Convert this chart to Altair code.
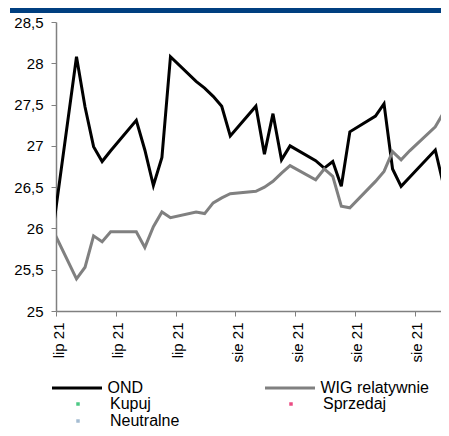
import altair as alt
import pandas as pd
from datetime import date

# ---- data ----
dates = [
    "2021-07-16", "2021-07-19", "2021-07-20", "2021-07-21", "2021-07-22", "2021-07-23",
    "2021-07-26", "2021-07-27", "2021-07-28", "2021-07-29", "2021-07-30",
    "2021-08-02", "2021-08-03", "2021-08-04", "2021-08-05", "2021-08-06",
    "2021-08-09", "2021-08-10", "2021-08-11", "2021-08-12", "2021-08-13",
    "2021-08-16", "2021-08-17", "2021-08-18", "2021-08-19", "2021-08-20",
    "2021-08-23", "2021-08-24", "2021-08-25", "2021-08-26", "2021-08-27",
    "2021-08-30", "2021-08-31", "2021-09-01",
]
ond = [
    25.79, 28.08, 27.47, 26.99, 26.81, 26.94,
    27.31, 26.95, 26.52, 26.86, 28.08,
    27.78, 27.70, 27.60, 27.48, 27.12,
    27.48, 26.90, 27.39, 26.83, 27.00,
    26.82, 26.73, 26.81, 26.51, 27.17,
    27.36, 27.51, 26.72, 26.51, 26.62,
    26.95, 26.51, 26.51,
]
wig = [
    26.03, 25.39, 25.53, 25.91, 25.84, 25.96,
    25.96, 25.77, 26.02, 26.20, 26.13,
    26.20, 26.18, 26.31, 26.37, 26.42,
    26.45, 26.50, 26.57, 26.67, 26.76,
    26.59, 26.72, 26.63, 26.27, 26.25,
    26.57, 26.69, 26.93, 26.83, 26.94,
    27.23, 27.41, 27.41,
]
series_names = ["OND", "WIG relatywnie"]
series_colors = ["#000000", "#808080"]
signal_names = ["Kupuj", "Sprzedaj", "Neutralne"]
signal_colors = ["#00b050", "#e2004f", "#7f9fbf"]
y_ticks = [25, 25.5, 26, 26.5, 27, 27.5, 28, 28.5]
x_tick_days = [0, 7, 14, 21, 28, 35, 42]
x_tick_labels = ["lip 21", "lip 21", "lip 21", "sie 21", "sie 21", "sie 21", "sie 21"]

axis_start = date(2021, 7, 17)
axis_end_day = 45.07
day_offset = 0.4


def day_pos(d):
    return (date.fromisoformat(d) - axis_start).days + day_offset


rows = []
for d, o, w in zip(dates, ond, wig):
    rows.append({"t": day_pos(d), "value": o, "series": series_names[0]})
    rows.append({"t": day_pos(d), "value": w, "series": series_names[1]})
df = pd.DataFrame(rows)

FONT = "Liberation Sans"
label_array = "[" + ",".join("'%s'" % s for s in x_tick_labels) + "]"

x_enc = alt.X(
    "t:Q",
    scale=alt.Scale(domain=[0, axis_end_day], nice=False, zero=False),
    axis=alt.Axis(
        values=x_tick_days,
        labelExpr=label_array + "[round(datum.value / 7)]",
        labelAngle=270,
        labelFont=FONT,
        labelFontSize=15,
        labelColor="#000000",
        labelPadding=6,
        labelOffset=2,
        tickSize=5,
        tickColor="#808080",
        domainColor="#808080",
        domainWidth=1.5,
        grid=False,
        title=None,
    ),
)
y_enc = alt.Y(
    "value:Q",
    scale=alt.Scale(domain=[25, 28.5], nice=False, zero=False),
    axis=alt.Axis(
        values=y_ticks,
        labelExpr="replace(toString(datum.value), '.', ',')",
        labelFont=FONT,
        labelFontSize=15,
        labelColor="#000000",
        labelPadding=8,
        tickSize=5,
        tickColor="#808080",
        domainColor="#808080",
        domainWidth=1.5,
        grid=False,
        title=None,
    ),
)

lines = alt.Chart(df).mark_line(strokeWidth=3, clip=True).encode(
    x=x_enc,
    y=y_enc,
    color=alt.Color(
        "series:N",
        scale=alt.Scale(domain=series_names, range=series_colors),
        legend=alt.Legend(
            title=None,
            orient="none",
            legendX=-5.5,
            legendY=359,
            columns=2,
            direction="horizontal",
            values=series_names,
            symbolType="M-1,0H1",
            symbolSize=2500,
            symbolStrokeWidth=3,
            symbolOffset=0,
            labelFont=FONT,
            labelFontSize=16,
            labelColor="#000000",
            labelOffset=4,
            clipHeight=14,
            rowPadding=3,
            columnPadding=120,
            padding=0,
        ),
    ),
)

signals = alt.Chart(alt.Data(values=[])).mark_point(filled=True).encode(
    x=alt.X("t:Q"),
    y=alt.Y("value:Q"),
    fill=alt.Fill(
        "signal:N",
        scale=alt.Scale(domain=signal_names, range=signal_colors),
        legend=alt.Legend(
            title=None,
            orient="none",
            legendX=-3,
            legendY=375,
            columns=2,
            direction="horizontal",
            values=signal_names,
            symbolType="M-0.07,-0.07H0.07V0.07H-0.07Z",
            symbolSize=2500,
            symbolStrokeWidth=0,
            symbolOffset=0,
            labelFont=FONT,
            labelFontSize=16,
            labelColor="#000000",
            labelOffset=7,
            clipHeight=14,
            rowPadding=1,
            columnPadding=86,
            padding=0,
        ),
    ),
)

top_bar = alt.Chart(alt.Data(values=[{}])).mark_rule(
    color="#003f80", strokeWidth=5
).encode(x=alt.value(-46), x2=alt.value(385), y=alt.value(-11.5))

chart = (
    alt.layer(top_bar, lines, signals)
    .properties(
        width=385,
        height=289,
        autosize=alt.AutoSizeParams(type="none"),
        padding={"left": 48, "top": 14, "right": 0, "bottom": 117},
        background="#ffffff",
    )
    .configure_view(stroke=None)
)

chart.save("out.html", embed_options={"renderer": "svg", "actions": False})
